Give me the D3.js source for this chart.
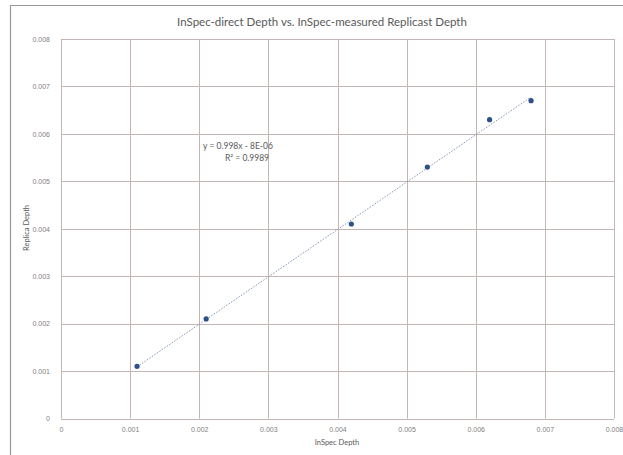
<!DOCTYPE html>
<html>
<head>
<meta charset="utf-8">
<script src="https://cdn.jsdelivr.net/npm/d3@7"></script>
<style>
	body { margin: 0; background: #fff; }
	svg { display: block; font-family: Lato, "Noto Sans", sans-serif; }
	.grid line { stroke: #c4b6b4; stroke-width: 1; }
	.tick text { fill: #808080; font-size: 7px; }
</style>
</head>
<body>
<div class="container"></div>
<script>
"use strict";

// measured points
const inspecDepth = [0.0011, 0.0021, 0.0042, 0.0053, 0.0062, 0.0068]
const replicaDepth = [0.0011, 0.0021, 0.0041, 0.0053, 0.0063, 0.0067]

// linear trendline as printed on the chart
const slope = 0.998
const intercept = -8e-6
const eqLabels = ['y = 0.998x - 8E-06', 'R\u00b2 = 0.9989']

const xTicks = [0, 0.001, 0.002, 0.003, 0.004, 0.005, 0.006, 0.007, 0.008]
const yTicks = [0, 0.001, 0.002, 0.003, 0.004, 0.005, 0.006, 0.007, 0.008]

const p = {
	width: 623,
	height: 455,
	left: 61,
	right: 614,
	top: 39,
	bottom: 418.5
}

const svg = d3.select('.container')
	.append('svg')
	.attr('width', p.width)
	.attr('height', p.height)

// outer chart frame (runs off the right and bottom edge)
svg.append('path')
	.attr('d', `M10.5,${p.height} V5.5 H${p.width}`)
	.attr('fill', 'none')
	.attr('stroke', '#9a9a9a')
	.attr('stroke-width', 1.2)

const x = d3.scaleLinear().domain([0, 0.008]).range([p.left, p.right])
const y = d3.scaleLinear().domain([0, 0.008]).range([p.bottom, p.top])

const fmt = d => d === 0 ? '0' : d3.format('.3f')(d)

// gridlines
const grid = svg.append('g').attr('class', 'grid')
grid.selectAll('.vx').data(xTicks).join('line')
	.attr('x1', d => Math.round(x(d)) + 0.5).attr('x2', d => Math.round(x(d)) + 0.5)
	.attr('y1', p.top).attr('y2', p.bottom)
grid.selectAll('.hy').data(yTicks).join('line')
	.attr('x1', p.left).attr('x2', p.right)
	.attr('y1', d => Math.round(y(d)) + 0.5).attr('y2', d => Math.round(y(d)) + 0.5)

// axes, labels only
const xAxis = svg.append('g')
	.attr('transform', `translate(0,${p.bottom + 6})`)
	.call(d3.axisBottom(x).tickValues(xTicks).tickFormat(fmt).tickSize(0))
xAxis.select('.domain').remove()

const yAxis = svg.append('g')
	.attr('transform', `translate(${p.left - 8},0)`)
	.call(d3.axisLeft(y).tickValues(yTicks).tickFormat(fmt).tickSize(0))
yAxis.select('.domain').remove()

// trendline over the data range
const xr = d3.extent(inspecDepth)
svg.append('line')
	.attr('x1', x(xr[0])).attr('y1', y(slope * xr[0] + intercept))
	.attr('x2', x(xr[1])).attr('y2', y(slope * xr[1] + intercept))
	.attr('stroke', '#8595b5')
	.attr('stroke-width', 1)
	.attr('stroke-dasharray', '1.5,1.5')

// points
svg.selectAll('.pt').data(inspecDepth).join('circle')
	.attr('cx', d => x(d))
	.attr('cy', (d, i) => y(replicaDepth[i]))
	.attr('r', 2.6)
	.attr('fill', '#2e5088')

// equation
svg.selectAll('.eq').data(eqLabels).join('text')
	.attr('x', (d, i) => i === 0 ? 238 : 247)
	.attr('y', (d, i) => 149 + i * 12)
	.attr('text-anchor', 'middle')
	.attr('font-size', 8.5)
	.attr('fill', '#595959')
	.text(d => d)

// title and axis titles
svg.append('text')
	.attr('x', 322).attr('y', 26)
	.attr('text-anchor', 'middle')
	.attr('font-size', 11.5)
	.attr('fill', '#595959')
	.text('InSpec-direct Depth vs. InSpec-measured Replicast Depth')

svg.append('text')
	.attr('x', 337).attr('y', 445)
	.attr('text-anchor', 'middle')
	.attr('font-size', 7.5)
	.attr('fill', '#595959')
	.text('InSpec Depth')

svg.append('text')
	.attr('transform', 'translate(29,228) rotate(-90)')
	.attr('text-anchor', 'middle')
	.attr('font-size', 7.5)
	.attr('fill', '#595959')
	.text('Replica Depth')
</script>
</body>
</html>
